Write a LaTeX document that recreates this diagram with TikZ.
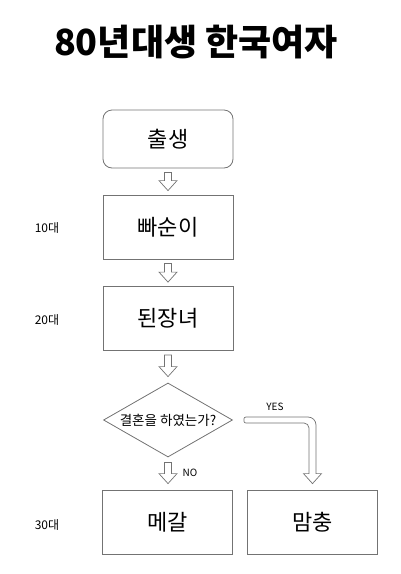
\documentclass[tikz,border=0pt]{standalone}
\usepackage{fontspec}
\setmainfont{Noto Sans CJK KR}
\usetikzlibrary{calc,shapes.geometric}
\tikzset{
  box/.style={draw=black!55, line width=0.8pt, minimum width=130pt, minimum height=64pt, inner sep=0pt, font=\fontsize{22}{24}\selectfont},
  rbox/.style={box, rounded corners=9pt, minimum height=58pt},
  dia/.style={draw=black!55, line width=0.8pt, diamond, aspect=1.75, minimum width=129pt, minimum height=74pt, inner sep=0pt, font=\fontsize{13.5}{15}\selectfont},
  agelbl/.style={font=\fontsize{12}{14}\selectfont},
  small/.style={font=\fontsize{10}{12}\selectfont},
  barrow/.style={draw=black!55, line width=0.7pt, fill=white, line join=miter}
}
\newcommand\varrow[2]{%
  \draw[barrow] let \p1=(#1), \p2=(#2) in
    (\x1-3.5pt,\y1) -- (\x1+3.5pt,\y1) -- (\x1+3.5pt,\y2+10pt) -- (\x1+9pt,\y2+10pt)
    -- (\x1,\y2) -- (\x1-9pt,\y2+10pt) -- (\x1-3.5pt,\y2+10pt) -- cycle;}
\begin{document}
\begin{tikzpicture}[x=1pt,y=-1pt]
\useasboundingbox (0,0) rectangle (400,574);
\node[font=\fontsize{36}{38}\selectfont\bfseries] (title) at (196,42) {80년대생 한국여자};
\node[rbox] (b1) at (168,139) {출생};
\node[box] (b2) at (168,227) {빠순이};
\node[box] (b3) at (168,318.5) {된장녀};
\node[dia] (d) at (168,420) {결혼을 하였는가?};
\node[box] (m1) at (167.5,522) {메갈};
\node[box] (m2) at (312.5,522) {맘충};
\node[agelbl] (a1) at (47,228) {10대};
\node[agelbl] (a2) at (47,320) {20대};
\node[agelbl] (a3) at (47,525) {30대};
\coordinate (s1) at ($(b1.south)+(0,4)$);
\coordinate (e1) at ($(b2.north)+(0,-4)$);
\coordinate (s2) at ($(b2.south)+(0,4)$);
\coordinate (e2) at ($(b3.north)+(0,-4)$);
\coordinate (s3) at ($(b3.south)+(0,4)$);
\coordinate (e3) at ($(d.north)+(0,-6)$);
\coordinate (s4) at ($(d.south)+(0,5)$);
\coordinate (e4) at ($(m1.north)+(0,-6)$);
\varrow{s1}{e1}
\varrow{s2}{e2}
\varrow{s3}{e3}
\varrow{s4}{e4}
\coordinate (s5) at ($(d.east)+(11,0)$);
\coordinate (e5) at ($(m2.north)+(0,-6)$);
\draw[barrow] let \p1=(s5), \p2=(e5) in
  [rounded corners=2pt] (\x1,\y1+3pt) -- (\x1,\y1-3pt)
  [rounded corners=5pt] -- (\x2-3.5pt,\y1-3pt)
  [rounded corners=0pt] -- (\x2-3.5pt,\y2+10pt) -- (\x2-9pt,\y2+10pt) -- (\x2,\y2)
  -- (\x2+9pt,\y2+10pt) -- (\x2+3.5pt,\y2+10pt)
  [rounded corners=8pt] -- (\x2+3.5pt,\y1+3pt)
  [rounded corners=2pt] -- cycle;
\node[small] (yes) at (275,407) {YES};
\node[small] (no) at (190,473) {NO};
\end{tikzpicture}
\end{document}
